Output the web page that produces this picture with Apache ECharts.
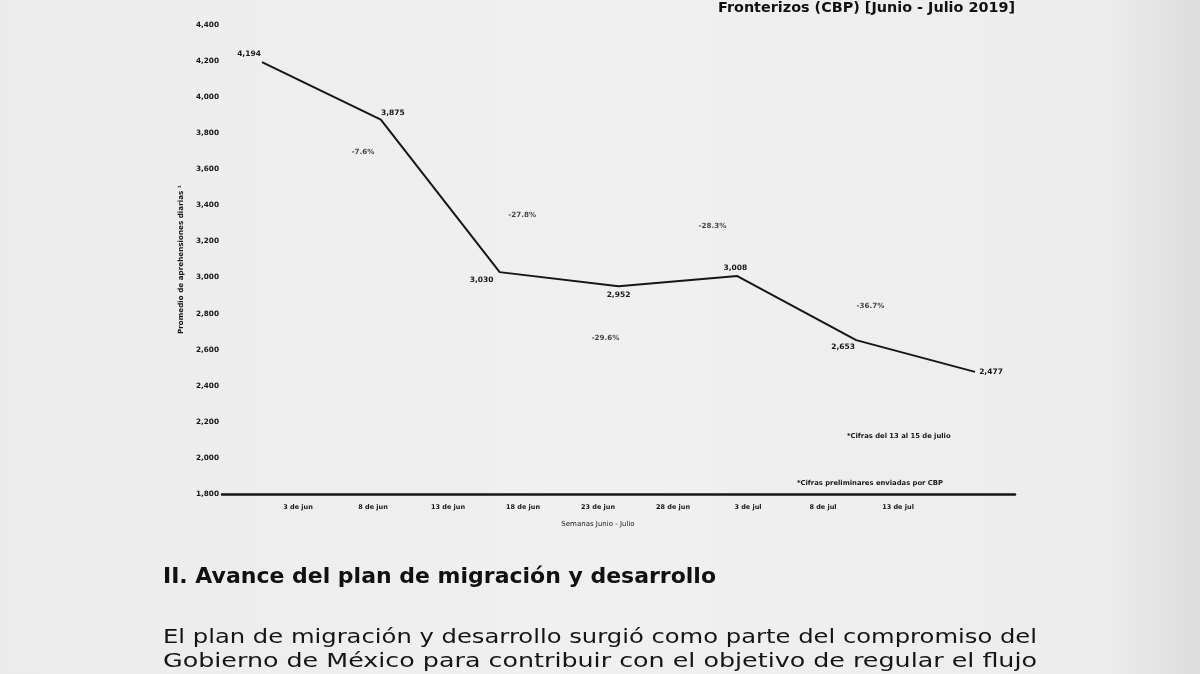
<!DOCTYPE html>
<html>
<head>
<meta charset="utf-8">
<script src="https://cdn.jsdelivr.net/npm/echarts@6/dist/echarts.min.js"></script>
<style>
html,body{margin:0;padding:0;background:#eeeeee;}
#c{width:1200px;height:674px;}
</style>
</head>
<body>
<div id="c"></div>
<script>
// ---- data ----
const weekLabels = ['3 de jun','8 de jun','13 de jun','18 de jun','23 de jun','28 de jun','3 de jul','8 de jul','13 de jul'];
const dailyAvg = [4194, 3875, 3030, 2952, 3008, 2653, 2477];
const pctChange = ['-7.6%', '-27.8%', '-29.6%', '-28.3%', '-36.7%', '-40.9%'];
const yMin = 1800, yMax = 4400, yStep = 200;
const headerText = 'Fronterizos (CBP) [Junio - Julio 2019]';
const yName = 'Promedio de aprehensiones diarias ¹';
const xName = 'Semanas Junio - Julio';
const notes = ['*Cifras del 13 al 15 de julio', '*Cifras preliminares enviadas por CBP'];
const sectionTitle = 'II. Avance del plan de migración y desarrollo';
const bodyLines = [
  'El plan de migración y desarrollo surgió como parte del compromiso del',
  'Gobierno de México para contribuir con el objetivo de regular el flujo'
];

// ---- layout (annotation anchors in data space, label offsets in px) ----
const pctAnchors = [[0.85, 3696], [2.19, 3347], [2.89, 2665], [3.79, 3286], [5.12, 2842], [6.04, 2671]];
const valueOffsets = [[-13, -8], [12, -7], [-18, 8], [0, 9], [-2, -8], [-13, 7], [16, 0]];

const fmt = v => v.toLocaleString('en-US');
const ink = '#161616';
const FAM = '"DejaVu Sans"';
const tinyFont = {fontFamily: 'DejaVu Sans', fontWeight: 'bold', fontSize: 7, color: ink};

// text measurement helper
const mctx = document.createElement('canvas').getContext('2d');
function measure(text, size, weight) {
  mctx.font = (weight || 'normal') + ' ' + size + 'px ' + FAM;
  return mctx.measureText(text).width;
}
// text stretched horizontally to span [left, right], vertically centred on cy
function stretched(text, left, right, cy, size, weight, fill) {
  const w = measure(text, size, weight);
  return {type: 'text', x: left, y: cy, scaleX: (right - left) / w, scaleY: 1,
    style: {text: text, fontFamily: 'DejaVu Sans', fontWeight: weight || 'normal', fontSize: size, fill: fill,
      verticalAlign: 'middle', align: 'left'}};
}

const chart = echarts.init(document.getElementById('c'), null, {renderer: 'canvas'});
const gridTop = 25, gridBottom = 180;

chart.setOption({
  backgroundColor: {
    type: 'linear', x: 0, y: 0, x2: 1, y2: 0,
    colorStops: [{offset: 0, color: '#ececec'}, {offset: 0.5, color: '#f0f0f0'},
      {offset: 0.92, color: '#ededed'}, {offset: 1, color: '#dddddd'}]
  },
  animation: false,
  grid: [
    {left: 262, right: 225, top: gridTop, bottom: gridBottom},  // data
    {left: 222, right: 185, top: gridTop, bottom: gridBottom},  // axis line + y labels
    {left: 298, right: 302, top: gridTop, bottom: gridBottom}   // x labels
  ],
  xAxis: [
    {gridIndex: 0, type: 'value', min: 0, max: dailyAvg.length - 1, show: false},
    {gridIndex: 1, type: 'category', data: [''], boundaryGap: false,
      axisLine: {show: true, lineStyle: {color: ink, width: 2.5}}, axisTick: {show: false}, axisLabel: {show: false}},
    {gridIndex: 2, type: 'category', data: weekLabels, boundaryGap: false,
      axisLine: {show: false}, axisTick: {show: false},
      axisLabel: Object.assign({margin: 10, interval: 0}, tinyFont, {fontSize: 6.5}),
      name: xName, nameLocation: 'middle', nameGap: 27,
      nameTextStyle: Object.assign({}, tinyFont, {fontWeight: 'normal', fontSize: 7})}
  ],
  yAxis: [
    {gridIndex: 0, type: 'value', min: yMin, max: yMax, interval: yStep, show: false},
    {gridIndex: 1, type: 'value', min: yMin, max: yMax, interval: yStep,
      axisLine: {show: false}, axisTick: {show: false}, splitLine: {show: false},
      axisLabel: Object.assign({margin: 3, formatter: v => fmt(v)}, tinyFont, {fontSize: 7.3}),
      name: yName, nameLocation: 'middle', nameGap: 35, nameRotate: 90,
      nameTextStyle: Object.assign({}, tinyFont, {fontSize: 7.2})},
    {gridIndex: 2, type: 'value', min: yMin, max: yMax, show: false}
  ],
  series: [
    {
      type: 'line', xAxisIndex: 0, yAxisIndex: 0,
      data: dailyAvg.map((v, i) => ({
        value: [i, v],
        label: {offset: valueOffsets[i]}
      })),
      symbol: 'circle', symbolSize: 0, showSymbol: true,
      lineStyle: {color: ink, width: 2},
      itemStyle: {color: ink},
      label: Object.assign({show: true, position: 'inside', formatter: p => fmt(p.value[1])}, tinyFont, {fontSize: 7.5}),
      z: 3
    },
    {
      type: 'scatter', xAxisIndex: 0, yAxisIndex: 0,
      data: pctChange.map((t, i) => ({value: [pctAnchors[i][0], pctAnchors[i][1]], name: t})),
      symbolSize: 0,
      label: Object.assign({show: true, position: 'inside', formatter: p => p.name}, tinyFont, {fontSize: 7.2}),
      z: 3
    }
  ],
  graphic: [
    stretched(headerText, 718, 1015, 8, 14, 'bold', '#111'),
    {type: 'text', left: 847, top: 433,
      style: {text: notes[0], fontFamily: 'DejaVu Sans', fontWeight: 'bold', fontSize: 6.8, fill: ink}},
    {type: 'text', left: 797, top: 480,
      style: {text: notes[1], fontFamily: 'DejaVu Sans', fontWeight: 'bold', fontSize: 6.8, fill: ink}},
    stretched(sectionTitle, 163, 716, 578, 21, 'bold', '#111'),
    stretched(bodyLines[0], 163, 1037, 638, 20, 'normal', '#151515'),
    stretched(bodyLines[1], 163, 1037, 662, 20, 'normal', '#151515')
  ]
});
</script>
</body>
</html>
